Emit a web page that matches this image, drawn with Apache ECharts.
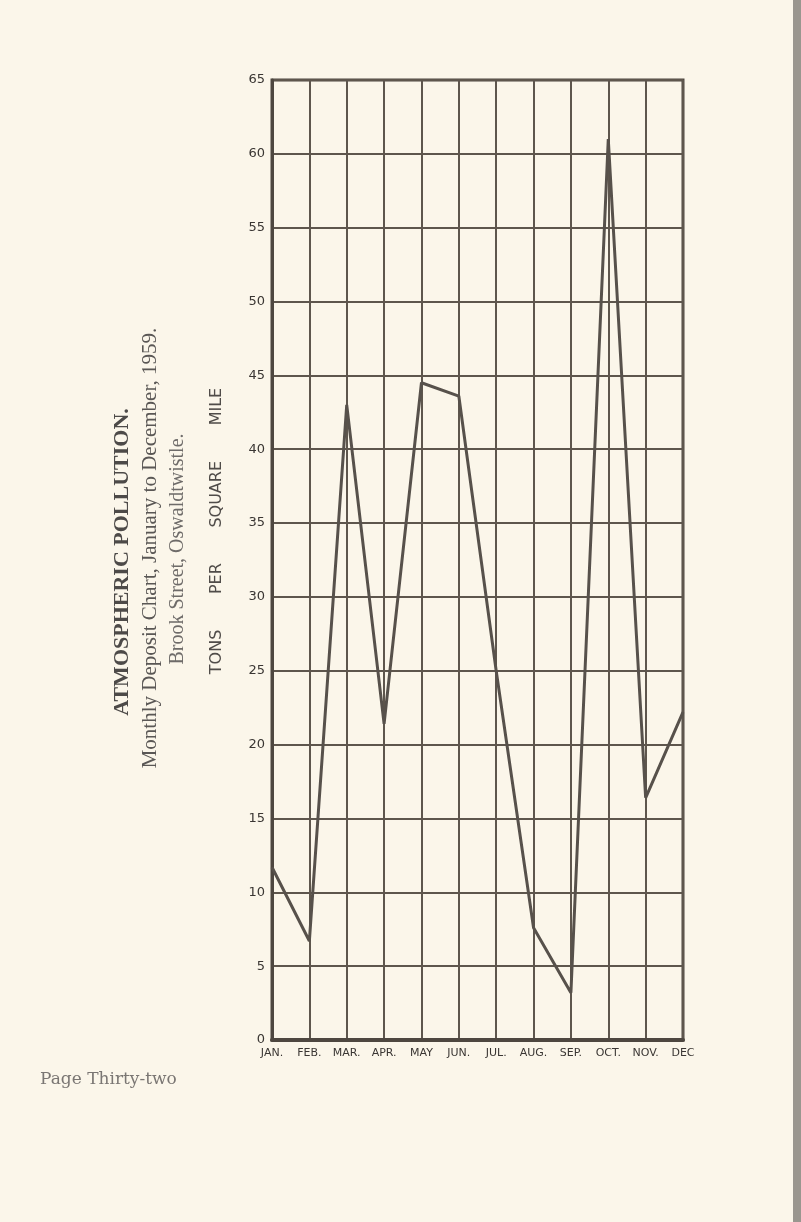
<!DOCTYPE html>
<html>
<head>
<meta charset="utf-8">
<script src="https://cdn.jsdelivr.net/npm/echarts@6/dist/echarts.min.js"></script>
<style>
html,body{margin:0;padding:0;background:#fbf6ea;}
#c{width:801px;height:1222px;}
</style>
</head>
<body>
<div id="c"></div>
<script>
var months = ['JAN.', 'FEB.', 'MAR.', 'APR.', 'MAY', 'JUN.', 'JUL.', 'AUG.', 'SEP.', 'OCT.', 'NOV.', 'DEC'];
var deposit = [11.7, 6.7, 43.0, 21.4, 44.5, 43.6, 25.0, 7.6, 3.2, 61.0, 16.4, 22.2];
var yTicks = [0, 5, 10, 15, 20, 25, 30, 35, 40, 45, 50, 55, 60, 65];

var chart = echarts.init(document.getElementById('c'), null, {renderer: 'canvas'});
var gridColor = '#5e564d';
chart.setOption({
  backgroundColor: '#fbf6ea',
  animation: false,
  grid: {left: 272, right: 118, top: 80, bottom: 182, show: true, borderColor: '#4e4740', borderWidth: 3, backgroundColor: 'transparent'},
  xAxis: {
    type: 'category',
    data: months,
    boundaryGap: false,
    axisLine: {show: true, lineStyle: {color: '#4e4740', width: 4}},
    axisTick: {show: false},
    axisLabel: {color: '#3a3633', fontSize: 11, fontFamily: 'DejaVu Sans', margin: 8, interval: 0},
    splitLine: {show: true, lineStyle: {color: gridColor, width: 2}}
  },
  yAxis: {
    type: 'value',
    min: 0, max: 65, interval: 5,
    axisLine: {show: true, lineStyle: {color: '#4e4740', width: 3}},
    axisTick: {show: false},
    axisLabel: {color: '#3a3633', fontSize: 13, fontFamily: 'DejaVu Sans', margin: 7,
      formatter: function (v) { return yTicks.indexOf(v) >= 0 ? String(v) : ''; }},
    splitLine: {show: true, lineStyle: {color: gridColor, width: 2}}
  },
  series: [{
    type: 'line',
    data: deposit,
    symbol: 'none',
    lineStyle: {color: '#57514b', width: 3},
    z: 5
  }],
  graphic: [
    {type: 'text', x: 122, y: 562, rotation: Math.PI / 2,
      style: {text: 'ATMOSPHERIC POLLUTION.', font: 'bold 22px "Liberation Serif", "DejaVu Serif", serif', fill: '#4d4a48', textAlign: 'center', textVerticalAlign: 'middle'}},
    {type: 'text', x: 150, y: 548, rotation: Math.PI / 2,
      style: {text: 'Monthly Deposit Chart, January to December, 1959.', font: '21px "Liberation Serif", "DejaVu Serif", serif', fill: '#5a5755', textAlign: 'center', textVerticalAlign: 'middle'}},
    {type: 'text', x: 178, y: 549, rotation: Math.PI / 2,
      style: {text: 'Brook Street, Oswaldtwistle.', font: '20px "Liberation Serif", "DejaVu Serif", serif', fill: '#6e6b69', textAlign: 'center', textVerticalAlign: 'middle'}},
    {type: 'text', x: 217, y: 531, rotation: Math.PI / 2,
      style: {text: 'TONS       PER       SQUARE       MILE', font: '16px "DejaVu Sans", sans-serif', fill: '#504c49', textAlign: 'center', textVerticalAlign: 'middle'}},
    {type: 'text', left: 40, top: 1071,
      style: {text: 'Page Thirty-two', font: '17px "DejaVu Serif", "Liberation Serif", serif', fill: '#7a7673'}},
    {type: 'rect', shape: {x: 793, y: 0, width: 8, height: 1222}, style: {fill: '#9a968f'}}
  ]
});
</script>
</body>
</html>
